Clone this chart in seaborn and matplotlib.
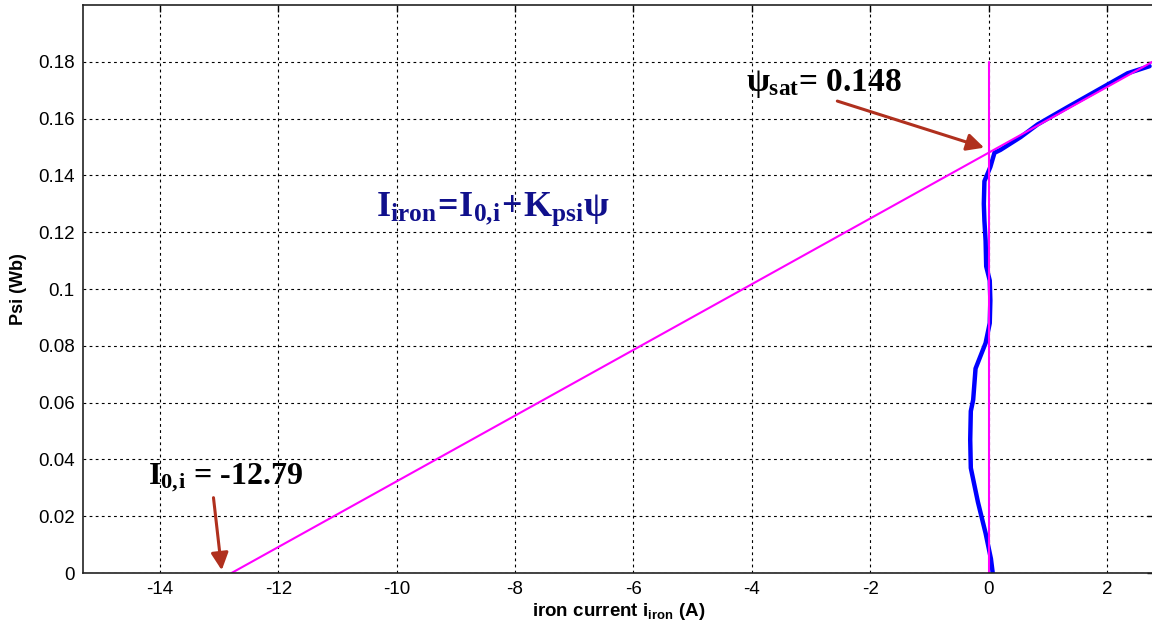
import numpy as np
import pandas as pd
import matplotlib
matplotlib.use("Agg")
import matplotlib.pyplot as plt
import seaborn as sns

# measured flux linkage vs iron current
psi_meas = [0.0, 0.005, 0.014, 0.025, 0.037, 0.047, 0.057, 0.061, 0.072, 0.081,
            0.088, 0.096, 0.103, 0.108, 0.117, 0.124, 0.130, 0.138, 0.143,
            0.148, 0.149, 0.1535, 0.158, 0.164, 0.170, 0.176, 0.1785]
i_meas = [0.07, 0.04, -0.05, -0.18, -0.30, -0.31, -0.30, -0.26, -0.22, -0.05,
          0.02, 0.03, 0.02, -0.04, -0.05, -0.07, -0.08, -0.07, 0.03,
          0.10, 0.20, 0.54, 0.83, 1.33, 1.84, 2.35, 2.72]

# fitted line I_iron = I0 + K*psi
i0 = -12.79
psi_sat = 0.148
fit_i = [i0, 0.0, 2.8]
fit_psi = [0.0, psi_sat, psi_sat + 2.8 * psi_sat / -i0]

# vertical line at i = 0
vert_i = [0.0, 0.0]
vert_psi = [0.0, 0.18]

sns.set_style("white")
plt.rcParams['font.family'] = ['Liberation Sans', 'DejaVu Sans']
plt.rcParams['axes.unicode_minus'] = False
plt.rcParams['text.color'] = 'black'
plt.rcParams['axes.labelcolor'] = 'black'
plt.rcParams['xtick.color'] = 'black'
plt.rcParams['ytick.color'] = 'black'
plt.rcParams['mathtext.fontset'] = 'custom'
plt.rcParams['mathtext.rm'] = 'Liberation Serif:bold'
plt.rcParams['mathtext.it'] = 'Liberation Serif:bold'
plt.rcParams['mathtext.bf'] = 'Liberation Serif:bold'
plt.rcParams['mathtext.sf'] = 'Liberation Sans:bold'

fig = plt.figure(figsize=(11.52, 6.31), dpi=100)
ax = fig.add_axes([0.072, 0.0919, 0.930, 0.900])

df_meas = pd.DataFrame({'i': i_meas, 'psi': psi_meas})
sns.lineplot(data=df_meas, x='i', y='psi', sort=False, estimator=None,
             color='#0000ff', lw=3.2, ax=ax)
sns.lineplot(x=fit_i, y=fit_psi, sort=False, estimator=None,
             color='#ff00ff', lw=1.5, ax=ax)
sns.lineplot(x=vert_i, y=vert_psi, sort=False, estimator=None,
             color='#ff00ff', lw=1.5, ax=ax)

ax.set_xlim(-15.3, 2.8)
ax.set_ylim(0, 0.2)
ax.set_xticks(np.arange(-14, 3, 2))
ax.set_yticks(np.arange(0, 0.19, 0.02))
ax.set_yticklabels(['0', '0.02', '0.04', '0.06', '0.08', '0.1', '0.12', '0.14', '0.16', '0.18'])
ax.tick_params(direction='in', length=5, width=1, labelsize=13.5,
               top=True, right=True, pad=6)
ax.grid(True, color='black', linestyle=(0, (2.5, 3)), lw=0.8)
for s in ax.spines.values():
    s.set_color('#222222')
    s.set_linewidth(1.2)

ax.set_xlabel(r'iron current $\mathsf{i_{iron}}$ (A)', fontsize=13.5,
              fontweight='bold', labelpad=2)
ax.set_ylabel('Psi (Wb)', fontsize=13, fontweight='bold', labelpad=8)

arrow = dict(arrowstyle='-|>', color='#b0301e', lw=2.2, mutation_scale=26)
ax.annotate(r'$\psi_{sat}$= 0.148', xy=(-0.03, 0.1495), xytext=(-4.1, 0.1725),
            fontsize=24, fontweight='bold', family='Liberation Serif',
            ha='left', va='center')
ax.annotate('', xy=(-0.03, 0.1495), xytext=(-2.6, 0.1665), arrowprops=arrow)
ax.annotate(r'$\mathrm{I_{0,\!i}}$ = -12.79', xy=(-12.95, 0.0), xytext=(-14.2, 0.0335),
            fontsize=23, fontweight='bold', family='Liberation Serif',
            ha='left', va='center')
ax.annotate('', xy=(-12.95, 0.0), xytext=(-13.1, 0.0275), arrowprops=arrow)
ax.text(-10.35, 0.128, r'$\mathrm{I_{iron}\!=\!I_{0,\!i}\!+\!K_{psi}\psi}$',
        fontsize=26, color='#10108c', ha='left', va='center')

fig.savefig('out.png', dpi=100)
